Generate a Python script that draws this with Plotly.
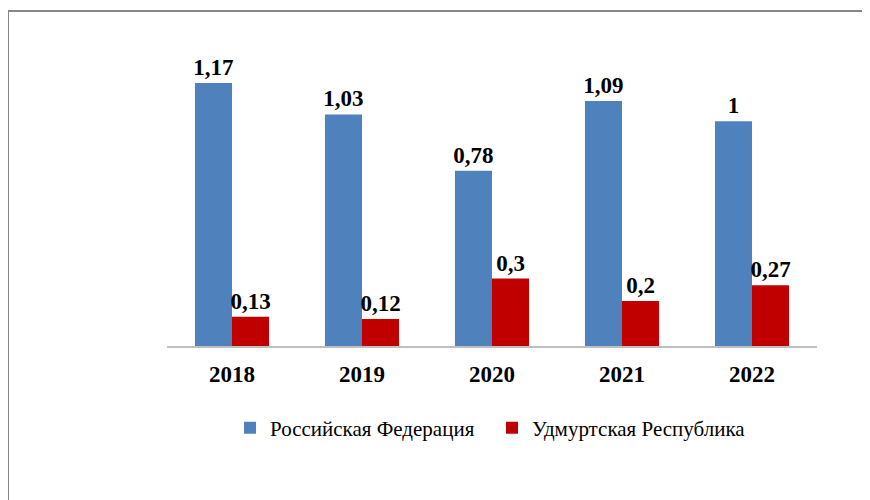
import plotly.graph_objects as go

years = ["2018", "2019", "2020", "2021", "2022"]
rf_values = [1.17, 1.03, 0.78, 1.09, 1.00]
ur_values = [0.13, 0.12, 0.30, 0.20, 0.27]
rf_labels = ["1,17", "1,03", "0,78", "1,09", "1"]
ur_labels = ["0,13", "0,12", "0,3", "0,2", "0,27"]
series_names = ["Российская Федерация", "Удмуртская Республика"]

serif = "Liberation Serif"

fig = go.Figure()
fig.add_trace(go.Bar(
    x=years, y=rf_values, name=series_names[0],
    marker=dict(color="#4F81BD", line=dict(width=0)),
    text=["<b>%s</b>" % t for t in rf_labels], textposition="outside", cliponaxis=False,
    constraintext="none",
    textfont=dict(family=serif, size=23, color="black"),
))
fig.add_trace(go.Bar(
    x=years, y=ur_values, name=series_names[1],
    marker=dict(color="#C00000", line=dict(width=0)),
    text=["<b>%s</b>" % t for t in ur_labels], textposition="outside", cliponaxis=False,
    constraintext="none",
    textfont=dict(family=serif, size=23, color="black"),
))

# page has an 8px body offset, so figure coords = reference coords - 8
L, R, T, B = 159, 61, 22, 162
W, H = 870, 500
pw, ph = W - L - R, H - T - B

def px(x):
    return (x - 8 - L) / pw

def py(y):
    return (H - B - (y - 8)) / ph

border = dict(color="#868686", width=2)
fig.add_shape(type="line", xref="paper", yref="paper",
              x0=px(8), x1=px(880), y0=py(11), y1=py(11), line=border)
fig.add_shape(type="line", xref="paper", yref="paper",
              x0=px(8), x1=px(8), y0=py(11), y1=py(510), line=border)

fig.update_layout(
    width=W, height=H,
    font=dict(family=serif, color="black"),
    margin=dict(l=L, r=R, t=T, b=B, pad=0),
    paper_bgcolor="white", plot_bgcolor="white",
    barmode="group", bargap=0.43, bargroupgap=0,
    showlegend=True,
    legend=dict(orientation="h", x=0.5, xanchor="center", y=py(428), yanchor="middle",
                font=dict(family=serif, size=21, color="black"),
                itemwidth=30, tracegroupgap=0, entrywidth=217, entrywidthmode="pixels"),
)
fig.update_xaxes(
    showline=True, linecolor="#BFBFBF", linewidth=1.5,
    ticks="", showgrid=False,
    tickfont=dict(family=serif, size=23, color="black"),
    tickvals=years, ticktext=["<b>%s</b>" % y for y in years],
    ticklabelstandoff=7,
)
fig.update_yaxes(
    range=[0, (H - B - T) / 224.8], visible=False, showgrid=False, zeroline=False,
)

fig.write_html("out.html")
